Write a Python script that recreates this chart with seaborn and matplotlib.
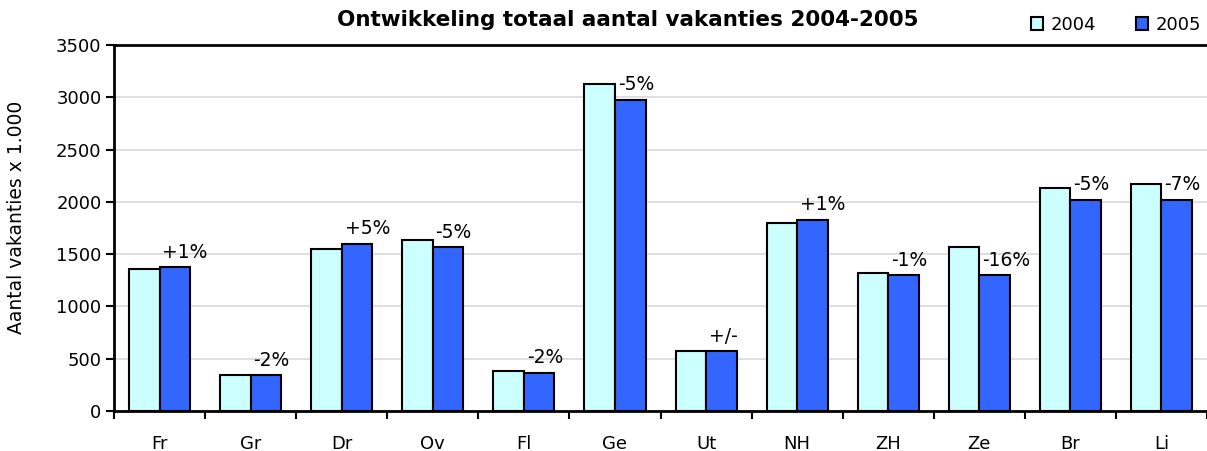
import matplotlib
matplotlib.use("Agg")
import matplotlib.pyplot as plt
import seaborn as sns
import pandas as pd
from matplotlib.patches import Patch

regions = ["Fr", "Gr", "Dr", "Ov", "Fl", "Ge", "Ut", "NH", "ZH", "Ze", "Br", "Li"]
v2004 = [1360, 340, 1545, 1640, 380, 3130, 570, 1795, 1320, 1570, 2135, 2175]
v2005 = [1375, 340, 1600, 1565, 365, 2975, 570, 1830, 1300, 1300, 2020, 2020]
changes = ["+1%", "-2%", "+5%", "-5%", "-2%", "-5%", "+/-", "+1%", "-1%", "-16%", "-5%", "-7%"]
years = ["2004", "2005"]
colors = ["#CCFFFF", "#3366FF"]

df = pd.DataFrame({
    "regio": regions * 2,
    "aantal": v2004 + v2005,
    "jaar": [years[0]] * len(regions) + [years[1]] * len(regions),
})

sns.set_theme(style="white")
plt.rcParams["font.family"] = ["DejaVu Sans"]
plt.rcParams["text.color"] = "black"
plt.rcParams["axes.labelcolor"] = "black"
plt.rcParams["xtick.color"] = "black"
plt.rcParams["ytick.color"] = "black"

fig = plt.figure(figsize=(12.07, 4.51), dpi=100)
ax = fig.add_axes([0.0945, 0.0887, 0.9055, 0.8115])

sns.barplot(data=df, x="regio", y="aantal", hue="jaar", palette=colors,
            saturation=1, edgecolor="black", linewidth=1.5, width=0.67, gap=0,
            ax=ax, legend=False, errorbar=None)

ax.set_ylim(0, 3500)
ax.set_xlim(-0.5, len(regions) - 0.5)
ax.set_yticks(range(0, 3501, 500))
ax.yaxis.grid(True, color="#D9D9D9", linewidth=1.2)
ax.set_axisbelow(True)

ax.set_xticks(range(len(regions)))
ax.set_xticklabels(regions, fontsize=13)
ax.set_xticks([i - 0.5 for i in range(len(regions) + 1)], minor=True)
ax.tick_params(axis="x", which="major", length=0, pad=17)
ax.tick_params(axis="x", which="minor", length=6, width=1.5, color="black", direction="out", bottom=True)
ax.tick_params(axis="y", length=6, width=1.5, color="black", direction="out", left=True, labelsize=13, pad=3)

for s in ["left", "bottom", "top"]:
    ax.spines[s].set_color("black")
    ax.spines[s].set_linewidth(2)
ax.spines["right"].set_visible(False)

ax.set_xlabel("")
ax.set_ylabel("Aantal vakanties x 1.000", fontsize=13.5)
ax.yaxis.set_label_coords(-0.081, 0.53)

for bar, lab in zip(ax.containers[1], changes):
    ax.annotate(lab, xy=(bar.get_x(), bar.get_height()), xytext=(2, 4),
                textcoords="offset points", ha="left", va="bottom", fontsize=13.5)

fig.text(0.52, 0.955, "Ontwikkeling totaal aantal vakanties 2004-2005",
         ha="center", va="center", fontsize=15.5, fontweight="bold")

handles = [Patch(facecolor=c, edgecolor="black", linewidth=1.5, label=y) for c, y in zip(colors, years)]
fig.legend(handles=handles, loc="center right", bbox_to_anchor=(0.998, 0.945), ncol=2,
           frameon=False, fontsize=13, handlelength=0.7, handleheight=0.7,
           handletextpad=0.4, columnspacing=2.2, borderaxespad=0, borderpad=0.2)

fig.savefig("out.png", dpi=100)
